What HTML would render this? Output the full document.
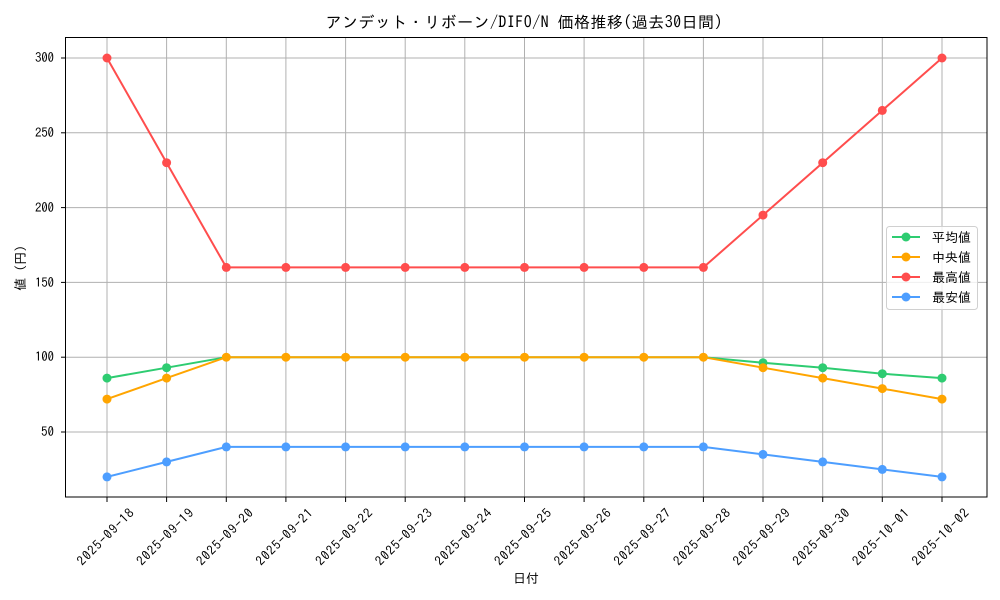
<!DOCTYPE html><html><head><meta charset="utf-8"><style>body{margin:0;background:#fff}svg{display:block}text{font-family:"IPAGothic","Noto Sans CJK JP",sans-serif;fill:#000}</style></head><body>
<svg width="1000" height="600" viewBox="0 0 1000 600">
<g stroke="#b0b0b0" stroke-width="1">
<line x1="107" y1="38" x2="107" y2="497"/><line x1="166.6" y1="38" x2="166.6" y2="497"/><line x1="226.3" y1="38" x2="226.3" y2="497"/><line x1="285.9" y1="38" x2="285.9" y2="497"/><line x1="345.6" y1="38" x2="345.6" y2="497"/><line x1="405.2" y1="38" x2="405.2" y2="497"/><line x1="464.8" y1="38" x2="464.8" y2="497"/><line x1="524.5" y1="38" x2="524.5" y2="497"/><line x1="584.1" y1="38" x2="584.1" y2="497"/><line x1="643.8" y1="38" x2="643.8" y2="497"/><line x1="703.4" y1="38" x2="703.4" y2="497"/><line x1="763" y1="38" x2="763" y2="497"/><line x1="822.7" y1="38" x2="822.7" y2="497"/><line x1="882.3" y1="38" x2="882.3" y2="497"/><line x1="942" y1="38" x2="942" y2="497"/>
<line x1="66" y1="58" x2="987" y2="58"/><line x1="66" y1="132.8" x2="987" y2="132.8"/><line x1="66" y1="207.6" x2="987" y2="207.6"/><line x1="66" y1="282.4" x2="987" y2="282.4"/><line x1="66" y1="357.2" x2="987" y2="357.2"/><line x1="66" y1="432" x2="987" y2="432"/>
</g>
<rect x="65.5" y="37.5" width="921.5" height="459.5" fill="none" stroke="#000" stroke-width="1"/>
<g stroke="#000"><line x1="61" y1="58" x2="66" y2="58"/><line x1="61" y1="132.8" x2="66" y2="132.8"/><line x1="61" y1="207.6" x2="66" y2="207.6"/><line x1="61" y1="282.4" x2="66" y2="282.4"/><line x1="61" y1="357.2" x2="66" y2="357.2"/><line x1="61" y1="432" x2="66" y2="432"/></g>
<g font-size="13" text-anchor="end"><text x="54" y="62" textLength="19">300</text><text x="54" y="137" textLength="19">250</text><text x="54" y="212" textLength="19">200</text><text x="54" y="287" textLength="19">150</text><text x="54" y="361" textLength="19">100</text><text x="54" y="436" textLength="13">50</text></g>
<g stroke="#000">
<line x1="107" y1="497" x2="107" y2="502"/><line x1="166.6" y1="497" x2="166.6" y2="502"/><line x1="226.3" y1="497" x2="226.3" y2="502"/><line x1="285.9" y1="497" x2="285.9" y2="502"/><line x1="345.6" y1="497" x2="345.6" y2="502"/><line x1="405.2" y1="497" x2="405.2" y2="502"/><line x1="464.8" y1="497" x2="464.8" y2="502"/><line x1="524.5" y1="497" x2="524.5" y2="502"/><line x1="584.1" y1="497" x2="584.1" y2="502"/><line x1="643.8" y1="497" x2="643.8" y2="502"/><line x1="703.4" y1="497" x2="703.4" y2="502"/><line x1="763" y1="497" x2="763" y2="502"/><line x1="822.7" y1="497" x2="822.7" y2="502"/><line x1="882.3" y1="497" x2="882.3" y2="502"/><line x1="942" y1="497" x2="942" y2="502"/></g>
<g font-size="13" text-anchor="middle">
<text transform="translate(105.5,537) rotate(-45)" dy="4.5" textLength="74">2025-09-18</text>
<text transform="translate(165.1,537) rotate(-45)" dy="4.5" textLength="74">2025-09-19</text>
<text transform="translate(224.8,537) rotate(-45)" dy="4.5" textLength="74">2025-09-20</text>
<text transform="translate(284.4,537) rotate(-45)" dy="4.5" textLength="74">2025-09-21</text>
<text transform="translate(344.1,537) rotate(-45)" dy="4.5" textLength="74">2025-09-22</text>
<text transform="translate(403.7,537) rotate(-45)" dy="4.5" textLength="74">2025-09-23</text>
<text transform="translate(463.3,537) rotate(-45)" dy="4.5" textLength="74">2025-09-24</text>
<text transform="translate(523,537) rotate(-45)" dy="4.5" textLength="74">2025-09-25</text>
<text transform="translate(582.6,537) rotate(-45)" dy="4.5" textLength="74">2025-09-26</text>
<text transform="translate(642.3,537) rotate(-45)" dy="4.5" textLength="74">2025-09-27</text>
<text transform="translate(701.9,537) rotate(-45)" dy="4.5" textLength="74">2025-09-28</text>
<text transform="translate(761.5,537) rotate(-45)" dy="4.5" textLength="74">2025-09-29</text>
<text transform="translate(821.2,537) rotate(-45)" dy="4.5" textLength="74">2025-09-30</text>
<text transform="translate(880.8,537) rotate(-45)" dy="4.5" textLength="74">2025-10-01</text>
<text transform="translate(940.5,537) rotate(-45)" dy="4.5" textLength="74">2025-10-02</text>
</g>
<text x="526" y="583" font-size="13" text-anchor="middle">日付</text>
<text transform="translate(25,268) rotate(-90)" font-size="13" text-anchor="middle">値 (円)</text>
<text x="524" y="28" font-size="16" text-anchor="middle" textLength="397">アンデット・リボーン/DIFO/N 価格推移(過去30日間)</text>
<g fill="none" stroke-width="2">
<polyline stroke="#2ecc71" points="107,378.1 166.6,367.7 226.3,357.2 285.9,357.2 345.6,357.2 405.2,357.2 464.8,357.2 524.5,357.2 584.1,357.2 643.8,357.2 703.4,357.2 763,362.8 822.7,367.7 882.3,373.7 942,378.1"/>
<polyline stroke="#ffa500" points="107,399.1 166.6,378.1 226.3,357.2 285.9,357.2 345.6,357.2 405.2,357.2 464.8,357.2 524.5,357.2 584.1,357.2 643.8,357.2 703.4,357.2 763,367.7 822.7,378.1 882.3,388.6 942,399.1"/>
<polyline stroke="#ff4d4d" points="107,58 166.6,162.7 226.3,267.4 285.9,267.4 345.6,267.4 405.2,267.4 464.8,267.4 524.5,267.4 584.1,267.4 643.8,267.4 703.4,267.4 763,215.1 822.7,162.7 882.3,110.4 942,58"/>
<polyline stroke="#4d9eff" points="107,476.9 166.6,461.9 226.3,446.9 285.9,446.9 345.6,446.9 405.2,446.9 464.8,446.9 524.5,446.9 584.1,446.9 643.8,446.9 703.4,446.9 763,454.4 822.7,461.9 882.3,469.4 942,476.9"/>
</g>
<g fill="#2ecc71"><circle cx="107" cy="378.1" r="4.5"/><circle cx="166.6" cy="367.7" r="4.5"/><circle cx="763" cy="362.8" r="4.5"/><circle cx="822.7" cy="367.7" r="4.5"/><circle cx="882.3" cy="373.7" r="4.5"/><circle cx="942" cy="378.1" r="4.5"/></g>
<g fill="#ffa500"><circle cx="107" cy="399.1" r="4.5"/><circle cx="166.6" cy="378.1" r="4.5"/><circle cx="226.3" cy="357.2" r="4.5"/><circle cx="285.9" cy="357.2" r="4.5"/><circle cx="345.6" cy="357.2" r="4.5"/><circle cx="405.2" cy="357.2" r="4.5"/><circle cx="464.8" cy="357.2" r="4.5"/><circle cx="524.5" cy="357.2" r="4.5"/><circle cx="584.1" cy="357.2" r="4.5"/><circle cx="643.8" cy="357.2" r="4.5"/><circle cx="703.4" cy="357.2" r="4.5"/><circle cx="763" cy="367.7" r="4.5"/><circle cx="822.7" cy="378.1" r="4.5"/><circle cx="882.3" cy="388.6" r="4.5"/><circle cx="942" cy="399.1" r="4.5"/></g>
<g fill="#ff4d4d"><circle cx="107" cy="58" r="4.5"/><circle cx="166.6" cy="162.7" r="4.5"/><circle cx="226.3" cy="267.4" r="4.5"/><circle cx="285.9" cy="267.4" r="4.5"/><circle cx="345.6" cy="267.4" r="4.5"/><circle cx="405.2" cy="267.4" r="4.5"/><circle cx="464.8" cy="267.4" r="4.5"/><circle cx="524.5" cy="267.4" r="4.5"/><circle cx="584.1" cy="267.4" r="4.5"/><circle cx="643.8" cy="267.4" r="4.5"/><circle cx="703.4" cy="267.4" r="4.5"/><circle cx="763" cy="215.1" r="4.5"/><circle cx="822.7" cy="162.7" r="4.5"/><circle cx="882.3" cy="110.4" r="4.5"/><circle cx="942" cy="58" r="4.5"/></g>
<g fill="#4d9eff"><circle cx="107" cy="476.9" r="4.5"/><circle cx="166.6" cy="461.9" r="4.5"/><circle cx="226.3" cy="446.9" r="4.5"/><circle cx="285.9" cy="446.9" r="4.5"/><circle cx="345.6" cy="446.9" r="4.5"/><circle cx="405.2" cy="446.9" r="4.5"/><circle cx="464.8" cy="446.9" r="4.5"/><circle cx="524.5" cy="446.9" r="4.5"/><circle cx="584.1" cy="446.9" r="4.5"/><circle cx="643.8" cy="446.9" r="4.5"/><circle cx="703.4" cy="446.9" r="4.5"/><circle cx="763" cy="454.4" r="4.5"/><circle cx="822.7" cy="461.9" r="4.5"/><circle cx="882.3" cy="469.4" r="4.5"/><circle cx="942" cy="476.9" r="4.5"/></g>
<rect x="886.5" y="226.5" width="91" height="83" rx="3" fill="#fff" fill-opacity="0.8" stroke="#d0d0d0"/>
<g stroke-width="2"><line x1="892" y1="237" x2="920" y2="237" stroke="#2ecc71"/><line x1="892" y1="257" x2="920" y2="257" stroke="#ffa500"/><line x1="892" y1="277" x2="920" y2="277" stroke="#ff4d4d"/><line x1="892" y1="297" x2="920" y2="297" stroke="#4d9eff"/></g>
<circle cx="906" cy="237" r="4.5" fill="#2ecc71"/><circle cx="906" cy="257" r="4.5" fill="#ffa500"/><circle cx="906" cy="277" r="4.5" fill="#ff4d4d"/><circle cx="906" cy="297" r="4.5" fill="#4d9eff"/>
<g font-size="13"><text x="932" y="242">平均値</text><text x="932" y="262">中央値</text><text x="932" y="282">最高値</text><text x="932" y="302">最安値</text></g>
</svg></body></html>
